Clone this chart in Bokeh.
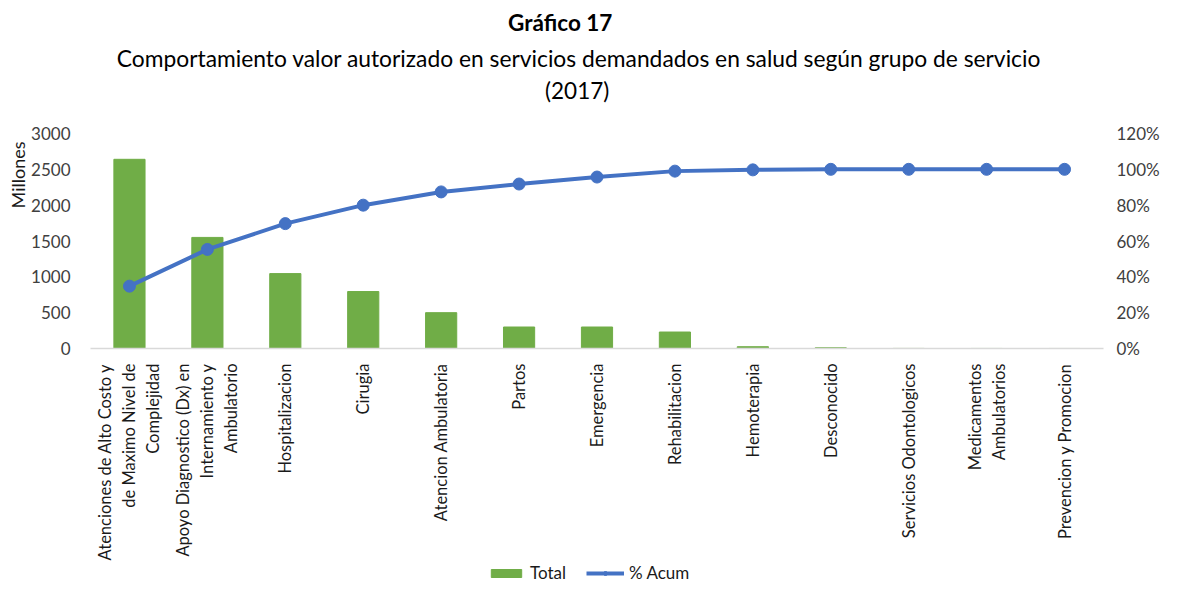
from bokeh.plotting import figure
from bokeh.layouts import column
from bokeh.models import (Range1d, LinearAxis, NumeralTickFormatter, Label,
                          Legend, LegendItem, Title, ColumnDataSource, FactorRange)
from bokeh.embed import file_html
from bokeh.resources import INLINE
import math

categories = [
    "Atenciones de Alto Costo y\nde Maximo Nivel de\nComplejidad",
    "Apoyo Diagnostico (Dx) en\nInternamiento y\nAmbulatorio",
    "Hospitalizacion",
    "Cirugia",
    "Atencion Ambulatoria",
    "Partos",
    "Emergencia",
    "Rehabilitacion",
    "Hemoterapia",
    "Desconocido",
    "Servicios Odontologicos",
    "Medicamentos\nAmbulatorios",
    "Prevencion y Promocion",
]
total_millones = [2640, 1550, 1045, 795, 500, 300, 300, 230, 25, 10, 1, 0.5, 0.3]
pct_acum = [0.348, 0.553, 0.697, 0.800, 0.874, 0.918, 0.957, 0.990, 0.997, 1.0, 1.0, 1.0, 1.0]
left_ticks = [0, 500, 1000, 1500, 2000, 2500, 3000]
right_ticks = [0, 0.2, 0.4, 0.6, 0.8, 1.0, 1.2]
series_names = ["Total", "% Acum"]
title_text = "Gráfico 17"
subtitle_text = "Comportamiento valor autorizado en servicios demandados en salud según grupo de servicio"
year_text = "(2017)"

FONT = "Lato"
TXT = "#404040"
GREEN = "#70AD47"
BLUE = "#4472C4"
W = 1162
HEAD_H = 110
LEG_H = 20
MAIN_H = 583 - HEAD_H - LEG_H

src = ColumnDataSource(dict(cat=categories, total=total_millones, pct=pct_acum))

# ---------- header with titles ----------
hd = figure(width=W, height=HEAD_H, x_range=Range1d(90, 1110), y_range=Range1d(HEAD_H, 0),
            output_backend="svg", toolbar_location=None, x_axis_type=None, y_axis_type=None,
            min_border=0, outline_line_color=None)
hd.xgrid.visible = False
hd.ygrid.visible = False
hd.add_layout(Label(x=563, y=22, text=title_text, text_font=FONT, text_font_size="22.5px",
                    text_font_style="bold", text_color="#000000",
                    text_align="center", text_baseline="middle"))
hd.add_layout(Label(x=582, y=57, text=subtitle_text, text_font=FONT, text_font_size="22.8px",
                    text_color="#000000", text_align="center", text_baseline="middle"))
hd.add_layout(Label(x=580, y=90, text=year_text, text_font=FONT, text_font_size="22.5px",
                    text_color="#000000", text_align="center", text_baseline="middle"))

# ---------- main chart ----------
p = figure(width=W, height=MAIN_H, x_range=FactorRange(*categories),
           y_range=Range1d(0, 3000), output_backend="svg", toolbar_location=None,
           min_border_left=90, min_border_right=52, min_border_top=133 - HEAD_H,
           min_border_bottom=MAIN_H - (350 - HEAD_H))
p.extra_y_ranges = {"pct": Range1d(0, 1.2)}

bars = p.vbar(x="cat", top="total", width=0.4, source=src, color=GREEN)
ln = p.line(x="cat", y="pct", source=src, y_range_name="pct", line_color=BLUE, line_width=4)
pts = p.scatter(x="cat", y="pct", source=src, y_range_name="pct", size=12,
                fill_color=BLUE, line_color=BLUE)

p.xgrid.visible = False
p.ygrid.visible = False
p.outline_line_color = None
p.background_fill_color = "white"

ya = p.yaxis[0]
ya.ticker = left_ticks
ya.axis_line_color = None
ya.major_tick_line_color = None
ya.minor_tick_line_color = None
ya.major_label_text_font = FONT
ya.major_label_text_font_size = "17px"
ya.major_label_text_color = TXT
ya.major_label_standoff = 14

ra = LinearAxis(y_range_name="pct", ticker=right_ticks, formatter=NumeralTickFormatter(format="0%"))
ra.axis_line_color = None
ra.major_tick_line_color = None
ra.minor_tick_line_color = None
ra.major_label_text_font = FONT
ra.major_label_text_font_size = "17px"
ra.major_label_text_color = TXT
ra.major_label_standoff = 7
p.add_layout(ra, "right")

xa = p.xaxis[0]
xa.axis_line_color = "#D9D9D9"
xa.axis_line_width = 1.5
xa.major_tick_line_color = None
xa.minor_tick_line_color = None
xa.major_label_orientation = math.pi / 2
xa.major_label_text_font = FONT
xa.major_label_text_font_size = "16.5px"
xa.major_label_text_color = "#1a1a1a"
xa.major_label_standoff = 9

p.add_layout(Title(text="Millones", align="right", offset=8, text_font=FONT,
                   text_font_size="18px", text_font_style="normal", text_color="#1a1a1a",
                   standoff=0), "left")

# ---------- legend strip ----------
lg = figure(width=W, height=LEG_H, x_range=FactorRange(*categories), y_range=Range1d(10000, 10001),
            output_backend="svg", toolbar_location=None, x_axis_type=None, y_axis_type=None,
            min_border=0, outline_line_color=None)
lg.xgrid.visible = False
lg.ygrid.visible = False
lb = lg.vbar(x="cat", top="total", width=0.4, source=src, color=GREEN)
ll = lg.line(x="cat", y="pct", source=src, line_color=BLUE, line_width=4)
lp = lg.scatter(x="cat", y="pct", source=src, size=12, fill_color=BLUE, line_color=BLUE)
legend = Legend(items=[LegendItem(label=series_names[0], renderers=[lb]),
                       LegendItem(label=series_names[1], renderers=[ll, lp])],
                orientation="horizontal", location=(397, 0),
                label_text_font=FONT, label_text_font_size="17px", label_text_color="#1a1a1a",
                glyph_width=38, glyph_height=10, spacing=20, border_line_color=None,
                background_fill_alpha=0, padding=0, margin=0, label_standoff=5)
lg.add_layout(legend, "center")

layout = column(hd, p, lg, spacing=0)
open("out.html", "w").write(file_html(layout, INLINE))
